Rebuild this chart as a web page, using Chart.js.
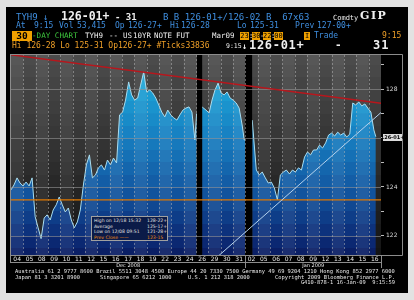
<!DOCTYPE html>
<html><head><meta charset="utf-8">
<script src="https://cdn.jsdelivr.net/npm/chart.js@4"></script>
<style>
html,body{margin:0;padding:0;width:414px;height:300px;overflow:hidden;background:#e2e2e2;}
#panel{position:absolute;left:6px;top:7px;width:402px;height:286px;background:#000;}
#c{position:absolute;left:0;top:0;}
.t{position:absolute;white-space:pre;font-family:"DejaVu Sans Mono",monospace;line-height:10px;height:10px;}
.b{color:#3f8fe0;font-size:8px;}
.w{color:#f0f0f0;}
.o{color:#f0a028;}
.box{position:absolute;background:#f0a000;color:#000;font-family:"DejaVu Sans Mono",monospace;font-weight:bold;text-align:center;line-height:10px;height:10px;}
.f{position:absolute;white-space:pre;font-family:"DejaVu Sans Mono",monospace;font-size:5.4px;line-height:6px;color:#e8e8e8;}
#leg{position:absolute;left:91px;top:216px;width:75px;height:23px;background:#0b1b48;border:1px solid #a0a0a0;}
#leg div{position:absolute;white-space:pre;font-family:"DejaVu Sans",sans-serif;font-size:4.6px;line-height:5px;color:#e0e0e0;}
</style></head>
<body>
<div id="panel"></div>
<canvas id="c" width="414" height="300"></canvas>

<!-- header line 1 -->
<div class="t b" style="left:16px;top:12px;font-size:9px;">TYH9 ↓</div>
<div class="t w" style="left:61px;top:11px;font-size:11.5px;font-weight:bold;">126-01+</div>
<div class="t w" style="left:115px;top:12px;font-size:9px;font-weight:bold;">- 31</div>
<div class="t b" style="left:163px;top:12px;font-size:9px;">B B 126-01+/126-02 B  67x63</div>
<div class="t w" style="left:333px;top:13px;font-size:7px;">Comdty</div>
<div class="t w" style="left:360px;top:11px;font-size:11px;font-weight:bold;font-family:'DejaVu Serif',serif;letter-spacing:1.5px;">GIP</div>
<!-- header line 2 -->
<div class="t b" style="left:16px;top:21px;">At</div>
<div class="t b" style="left:34px;top:21px;">9:15</div>
<div class="t b" style="left:59px;top:21px;">Vol</div>
<div class="t b" style="left:77px;top:21px;">53,415</div>
<div class="t b" style="left:115px;top:21px;">Op</div>
<div class="t b" style="left:128px;top:21px;">126-27+</div>
<div class="t b" style="left:170px;top:21px;">Hi</div>
<div class="t b" style="left:181px;top:21px;">126-28</div>
<div class="t b" style="left:237px;top:21px;">Lo</div>
<div class="t b" style="left:250px;top:21px;">125-31</div>
<div class="t b" style="left:295px;top:21px;">Prev</div>
<div class="t b" style="left:317px;top:21px;">127-00+</div>
<!-- header line 3 -->
<div class="box" style="left:12px;top:31px;width:20px;font-size:9.5px;">30</div>
<div class="t" style="left:32px;top:31px;font-size:7.6px;color:#3ec83e;">-DAY CHART</div>
<div class="t w" style="left:85px;top:31px;font-size:7.5px;">TYH9</div>
<div class="t w" style="left:109px;top:31px;font-size:7.5px;">--</div>
<div class="t w" style="left:123px;top:31px;font-size:7.5px;">US</div>
<div class="t w" style="left:133px;top:31px;font-size:7.5px;">10YR</div>
<div class="t w" style="left:154px;top:31px;font-size:7.5px;">NOTE</div>
<div class="t w" style="left:176px;top:31px;font-size:7.5px;">FUT</div>
<div class="t w" style="left:212px;top:31px;font-size:7.5px;">Mar09</div>
<div class="box" style="left:240px;top:32px;width:9px;height:8px;line-height:8px;font-size:7px;font-weight:normal;">23</div>
<div class="t w" style="left:249px;top:31px;font-size:7px;">:</div>
<div class="box" style="left:252px;top:32px;width:8px;height:8px;line-height:8px;font-size:7px;font-weight:normal;">30</div>
<div class="t w" style="left:260px;top:31px;font-size:7px;">-</div>
<div class="box" style="left:263px;top:32px;width:8px;height:8px;line-height:8px;font-size:7px;font-weight:normal;">22</div>
<div class="t w" style="left:271px;top:31px;font-size:7px;">:</div>
<div class="box" style="left:274px;top:32px;width:9px;height:8px;line-height:8px;font-size:7px;font-weight:normal;">00</div>
<div class="box" style="left:304px;top:32px;width:6px;height:8px;line-height:8px;font-size:7px;font-weight:normal;">I</div>
<div class="t b" style="left:314px;top:31px;font-size:8px;">Trade</div>
<div class="t o" style="left:382px;top:31px;font-size:8px;">9:15</div>
<!-- header line 4 -->
<div class="t o" style="left:12px;top:41px;font-size:8px;">Hi 126-28 Lo 125-31 Op126-27+ #Ticks33836</div>
<div class="t w" style="left:226px;top:41px;font-size:6.5px;">9:15</div>
<div class="t w" style="left:242px;top:41px;font-size:8.5px;font-weight:bold;">↓</div>
<div class="t w" style="left:249px;top:40px;font-size:12px;font-weight:bold;letter-spacing:0.7px;">126-01+</div>
<div class="t w" style="left:335px;top:40px;font-size:11px;font-weight:bold;">-</div>
<div class="t w" style="left:373px;top:40px;font-size:12px;font-weight:bold;letter-spacing:1px;">31</div>

<!-- stats legend -->
<div id="leg">
<div style="left:2px;top:1px;">High on 12/18 15:32</div><div style="left:55px;top:1px;">128-22+</div>
<div style="left:2px;top:6.5px;">Average</div><div style="left:55px;top:6.5px;">125-17+</div>
<div style="left:2px;top:12px;">Low on 12/08 09:51</div><div style="left:55px;top:12px;">121-28+</div>
<div style="left:2px;top:17.5px;color:#f08a10;">Prev Close ——</div><div style="left:55px;top:17.5px;color:#f08a10;">123-15</div>
</div>

<!-- footer -->
<div class="f" style="left:15px;top:268px;">Australia 61 2 9777 8600 Brazil 5511 3048 4500 Europe 44 20 7330 7500 Germany 49 69 9204 1210 Hong Kong 852 2977 6000</div>
<div class="f" style="left:15px;top:274px;">Japan 81 3 3201 8900</div>
<div class="f" style="left:100px;top:274px;">Singapore 65 6212 1000</div>
<div class="f" style="left:188px;top:274px;">U.S. 1 212 318 2000</div>
<div class="f" style="left:275px;top:274px;">Copyright 2009 Bloomberg Finance L.P.</div>
<div class="f" style="right:19px;top:279px;text-align:right;">G410-878-1 16-Jan-09  9:15:59</div>

<script>
// ---- data ----
const dayLabels = ['04','05','08','09','10','11','12','15','16','17','18','19','22','23','24','26','29','30','31','02','05','06','07','08','09','12','13','14','15','16'];
const monthNames = ['Dec 2008','Jan 2009'];
const monthStart = [0,19];
const monthEnd = [19,30];
const times = [0.00,0.24,0.49,0.73,0.98,1.22,1.47,1.71,1.96,2.20,2.44,2.69,2.93,3.18,3.42,3.67,3.91,4.16,4.40,4.65,4.89,5.13,5.38,5.62,5.87,6.11,6.36,6.60,6.85,7.09,7.33,7.58,7.82,8.07,8.31,8.56,8.80,9.05,9.29,9.54,9.78,10.02,10.27,10.51,10.76,11.00,11.25,11.49,11.74,11.98,12.22,12.47,12.71,12.96,13.20,13.45,13.69,13.94,14.18,14.43,14.67,14.91,15.05,15.25,15.49,15.81,16.06,16.30,16.54,16.79,17.03,17.28,17.52,17.77,18.01,18.26,18.50,18.74,18.91,18.99,19.25,19.56,19.89,20.13,20.37,20.62,20.86,21.11,21.35,21.60,21.84,22.09,22.33,22.58,22.82,23.06,23.31,23.55,23.80,24.04,24.29,24.53,24.78,25.02,25.26,25.51,25.75,26.00,26.24,26.49,26.73,26.98,27.22,27.47,27.71,27.95,28.20,28.44,28.69,28.93,29.18,29.42,29.58];
const prices = [123.88,124.08,124.37,124.16,124.04,124.20,124.04,124.37,122.78,122.33,121.89,122.73,122.86,122.65,123.06,123.27,123.59,123.27,122.98,123.14,122.65,122.33,122.57,123.06,124.08,124.90,125.31,124.37,124.49,124.78,124.90,124.69,125.10,124.90,125.18,124.98,126.94,127.06,127.55,128.29,127.76,127.55,127.63,128.16,128.70,127.88,127.96,127.84,127.63,127.35,127.06,126.86,127.14,126.94,126.82,126.73,126.94,127.14,127.22,127.27,127.06,125.92,127.00,null,127.27,127.14,127.02,127.55,127.96,128.24,127.84,127.76,127.88,127.63,127.55,127.43,127.22,126.53,125.92,125.92,null,126.73,124.69,124.49,124.61,124.37,124.16,124.20,123.96,123.47,124.49,124.61,124.69,124.53,124.69,124.61,124.78,124.69,125.22,125.43,125.31,125.51,125.51,125.71,125.59,125.80,126.12,126.20,126.08,126.24,126.12,126.20,126.04,126.16,127.43,127.35,127.47,127.31,127.39,127.22,127.06,126.33,126.05];
const gapStart = [15.08,18.98];
const gapEnd = [15.50,19.55];
const resistanceT = [0,30];
const resistanceV = [129.40,127.42];
const supportT = [16.5,30];
const supportV = [121.04,127.04];
const prevClose = 123.47;
const lastPrice = 126.05;
const lastPriceLabel = '126-01+';
const yTickValues = [122,123,124,125,126,127,128,129];
const yTickLabels = {122:'122',124:'124',128:'128'};
const gridValues = [122,124,126,128];
const yMin = 121.22, yMax = 129.39;

// ---- styling helpers ----
function lerpColor(stops, v){
  if (v <= stops[0][0]) return stops[0][1];
  for (let i=1;i<stops.length;i++){
    if (v <= stops[i][0]){
      const a=stops[i-1], b=stops[i], f=(v-a[0])/(b[0]-a[0]);
      return a[1].map((c,k)=>Math.round(c+(b[1][k]-c)*f));
    }
  }
  return stops[stops.length-1][1];
}
const blueStops = [[121.2,[10,30,100]],[122,[12,44,120]],[124,[18,88,162]],[126,[22,126,192]],[128,[28,160,212]],[129.4,[40,182,228]]];
const grayStops = [[121.2,[20,20,20]],[123,[30,30,30]],[125,[46,46,46]],[127,[60,60,60]],[129.4,[76,76,76]]];
const rgb = c => `rgb(${c[0]},${c[1]},${c[2]})`;

function blueFill(chart){
  const y = chart.scales && chart.scales.y;
  if (!chart.chartArea || !y) return '#1a6ab0';
  const y0 = y.getPixelForValue(129.5), y1 = y.getPixelForValue(121.0);
  const g = chart.ctx.createLinearGradient(0,y0,0,y1);
  for (let v=129.5; v>121.01; v-=0.5){
    const c = rgb(lerpColor(blueStops, v-0.25));
    const p0 = (y.getPixelForValue(v)-y0)/(y1-y0);
    const p1 = (y.getPixelForValue(v-0.5)-y0)/(y1-y0);
    g.addColorStop(Math.min(1,Math.max(0,p0)), c);
    g.addColorStop(Math.min(1,Math.max(0,p1-0.0001)), c);
  }
  return g;
}

const bgPlugin = {
  id:'bbgBackground',
  beforeDatasetsDraw(chart){
    const {ctx, chartArea:a, scales:{y}} = chart;
    ctx.save();
    ctx.beginPath(); ctx.rect(a.left,a.top,a.width,a.height); ctx.clip();
    for (let v=121; v<129.5; v+=0.5){
      const top = y.getPixelForValue(v+0.5), bot = y.getPixelForValue(v);
      ctx.fillStyle = rgb(lerpColor(grayStops, v+0.25));
      ctx.fillRect(a.left, Math.round(top), a.width, Math.round(bot)-Math.round(top));
    }
    ctx.restore();
  },
  afterDatasetDraw(chart, args){
    if (args.index !== 0) return;
    const {ctx, chartArea:a, scales:{x,y}} = chart;
    ctx.save();
    ctx.beginPath(); ctx.rect(a.left,a.top,a.width,a.height); ctx.clip();
    ctx.fillStyle = 'rgba(255,255,255,0.065)';
    for (let i=0;i<dayLabels.length;i+=2){
      const l = x.getPixelForValue(i), r = x.getPixelForValue(i+1);
      ctx.fillRect(l, a.top, r-l, a.height);
    }
    ctx.fillStyle = '#000';
    for (let i=0;i<gapStart.length;i++){
      const l = x.getPixelForValue(gapStart[i]), r = x.getPixelForValue(gapEnd[i]);
      ctx.fillRect(l, a.top, r-l, a.height);
    }
    ctx.strokeStyle = 'rgba(150,150,150,0.6)'; ctx.lineWidth = 1;
    gridValues.forEach(v=>{
      const py = Math.round(y.getPixelForValue(v))+0.5;
      ctx.beginPath(); ctx.moveTo(a.left,py); ctx.lineTo(a.right,py); ctx.stroke();
    });
    ctx.setLineDash([2,2]);
    ctx.strokeStyle = 'rgba(185,185,185,0.5)';
    for (let i=1;i<dayLabels.length;i++){
      const px = Math.round(x.getPixelForValue(i))+0.5;
      ctx.beginPath(); ctx.moveTo(px,a.top); ctx.lineTo(px,a.bottom); ctx.stroke();
    }
    ctx.restore();
  },
  afterDraw(chart){
    const {ctx, chartArea:a, scales:{x,y}} = chart;
    ctx.save();
    ctx.strokeStyle = '#8c8c8c'; ctx.lineWidth = 1;
    const L = (x1,y1,x2,y2)=>{ctx.beginPath();ctx.moveTo(x1,y1);ctx.lineTo(x2,y2);ctx.stroke();};
    L(10, a.top-0.5, 402.5, a.top-0.5);
    L(402.5, a.top-0.5, 402.5, a.bottom+0.5);
    L(10.5, a.top-0.5, 10.5, a.bottom+7.5);
    L(10, a.bottom+0.5, 402.5, a.bottom+0.5);
    L(10, a.bottom+7.5, a.right+0.5, a.bottom+7.5);
    const sep = Math.round(x.getPixelForValue(monthStart[1]))+0.5;
    L(sep, a.bottom, sep, a.bottom+13);
    L(a.right+0.5, a.bottom, a.right+0.5, a.bottom+13);
    ctx.fillStyle = '#e8e8e8';
    ctx.font = '5px "DejaVu Sans"';
    ctx.textAlign = 'center'; ctx.textBaseline = 'middle';
    monthNames.forEach((m,i)=>{
      ctx.fillText(m, x.getPixelForValue((monthStart[i]+monthEnd[i])/2), a.bottom+10.5);
    });
    const py = y.getPixelForValue(lastPrice);
    ctx.fillStyle = '#dcdcdc';
    ctx.fillRect(a.right+2, Math.round(py)-3, 19, 7);
    ctx.fillStyle = '#000';
    ctx.font = 'bold 5px "DejaVu Sans"';
    ctx.textAlign = 'center';
    ctx.fillText(lastPriceLabel, a.right+11.5, Math.round(py)+0.5);
    ctx.restore();
  }
};

new Chart(document.getElementById('c'), {
  type:'line',
  data:{ datasets:[
    { label:'TYH9', data: times.map((t,i)=>({x:t, y:prices[i]})), borderColor:'#a6dcf0', borderWidth:1,
      pointRadius:0, fill:'start', backgroundColor: ctx=>blueFill(ctx.chart), spanGaps:false, tension:0, order:3 },
    { label:'Prev Close', data:[{x:0,y:prevClose},{x:30,y:prevClose}], borderColor:'#e07800', borderWidth:1.2, pointRadius:0, fill:false, order:2 },
    { label:'Resistance', data: resistanceT.map((t,i)=>({x:t,y:resistanceV[i]})), borderColor:'#b8161c', borderWidth:1.4, pointRadius:0, fill:false, order:1 },
    { label:'Support', data: supportT.map((t,i)=>({x:t,y:supportV[i]})), borderColor:'#b4d2ee', borderWidth:1, pointRadius:0, fill:false, order:1 }
  ]},
  options:{
    responsive:false, animation:false, devicePixelRatio:1,
    layout:{padding:{left:11, top:55, right:0, bottom:0}},
    plugins:{legend:{display:false}, tooltip:{enabled:false}},
    scales:{
      x:{ type:'linear', min:0, max:30,
        afterBuildTicks: s=>{ s.ticks = dayLabels.map((_,i)=>({value:i+0.5})); },
        afterFit: s=>{ s.height = 45; },
        ticks:{ autoSkip:false, maxRotation:0, minRotation:0, color:'#e8e8e8', font:{size:6, family:'DejaVu Sans'}, padding:1,
          callback:(v,i)=>dayLabels[i] },
        grid:{display:false, drawTicks:false}, border:{display:false} },
      y:{ position:'right', min:yMin, max:yMax,
        afterBuildTicks: s=>{ s.ticks = yTickValues.map(v=>({value:v})); },
        afterFit: s=>{ s.width = 33; },
        ticks:{ color:'#d8d8d8', font:{size:6, family:'DejaVu Sans'}, padding:2, callback:v=>yTickLabels[v]||'' },
        grid:{drawOnChartArea:false, drawTicks:true, tickLength:3, color:'#bbbbbb'}, border:{display:false} }
    }
  },
  plugins:[bgPlugin]
});
</script>
</body></html>
